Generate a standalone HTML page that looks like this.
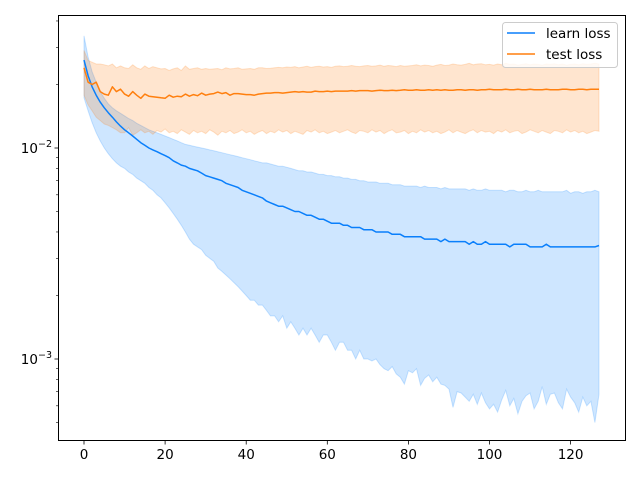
<!DOCTYPE html>
<html><head><meta charset="utf-8"><style>
body{margin:0;background:#fff}
svg{display:block;font-family:"DejaVu Sans","Liberation Sans",sans-serif}
</style></head><body>
<svg id="c" width="640" height="480"></svg>
<script>
const U=1e-4;
const learnMean=[261,220,195,178,165,155,147,140,133,127,122,118,114,110,106,103,100,98,96,94,92,90,87,85,83,82,80,79,78,76,74,73,72,71,70,68,67,66,65,63,62,61,60,59,58,56,55,54,53,53,52,51,50,50,49,48,48,47,46,46,45,44,44,44,43,43,42,42,42,41,41,41,40,40,40,40,39,39,39,38,38,38,38,38,37,37,37,37,36,37,36,36,36,36,36,35,36,35,35,36,35,35,35,35,35,34,35,35,35,35,34,34,34,34,35,34,34,34,34,34,34,34,34,34,34,34,34,34.5];
const learnUpper=[340,270,230,205,185,172,162,155,150,146,142,138,135,131,128,125,122,120,118,116,114,112,110,108,106,104,103,102,101,100,99,98,97,96,95,94,93,92,91,90,89,88,87,86,85,85,84,83,82,82,81,80,79,78,78,77,77,76,75,75,74,74,73,73,72,72,71,71,70,70,69,69,69,68,68,68,67,67,67,66,66,66,66,65,66,65,65,65,64,65,64,64,64,64,64,63,64,63,63,64,63,63,63,63,62,63,63,62,62,63,62,62,63,62,62,62,62,62,62,63,61,62,62,61,62,62,63,62];
const learnLower=[173,150,132,118,108,100,94,89,85,82,80,77,75,72,70,68,65,63,60,58,55,52,49,46,43,40,37,35,34,33,31,30,29,27,26,25,24,23,22,21,20,19,19,18,18,17,16,16,15,16,14,15,14,13,14,13,14,13,12,13,13,12,11,12,12,11,11,10,11,10,10,9.8,10,9.4,9,8.8,9.2,8.5,8.2,7.6,8.8,8.6,9.0,7.5,8.1,8.4,7.8,8.2,7.6,7.5,7.2,5.9,7,6.9,6.6,6.3,6.8,6.1,6.9,6.2,5.8,6.1,5.6,6.4,7.1,6.0,6.5,5.5,6.3,6.7,6.9,5.8,6.3,7.4,6.1,6.8,6.9,6.2,5.8,7.2,6.6,6.2,5.6,6.6,6.0,6.3,5.0,6.8];
const testMean=[240,205,200,205,185,180,178,195,185,190,180,176,185,178,172,180,176,175,174,173,172,178,174,176,175,180,176,179,177,182,178,180,181,184,181,183,178,181,181,180,179,179,178,180,181,182,182,183,183,182,183,184,185,184,185,184,184,186,185,185,186,185,186,186,186,186,187,186,187,187,187,186,187,188,187,187,188,187,188,189,188,188,189,188,188,189,188,189,188,189,188,188,189,189,188,189,189,188,189,189,190,189,189,189,190,189,189,190,189,189,190,189,189,189,190,189,189,189,190,190,189,189,190,190,189,190,190,190];
const testUpper=[290,260,255,250,250,248,245,250,240,245,240,238,248,240,236,245,238,243,240,237,238,233,237,240,233,245,236,238,240,236,238,236,237,238,235,240,237,238,240,236,237,238,236,240,240,238,239,240,241,240,242,241,243,240,242,244,241,243,244,242,243,241,244,245,243,244,246,244,243,245,246,244,245,247,244,246,245,243,246,244,245,246,248,245,247,246,244,247,249,246,247,250,248,247,249,252,248,250,251,248,249,247,250,248,252,249,250,247,249,251,248,250,249,247,250,249,251,248,250,247,249,250,248,251,249,250,252,250];
const testLower=[178,160,150,140,135,130,128,125,122,118,118,125,115,118,122,118,120,116,121,119,123,118,120,117,122,119,116,121,118,120,117,122,119,115,120,118,121,117,119,122,118,120,116,119,121,117,120,118,122,119,121,117,120,118,116,121,119,122,118,120,117,119,121,118,120,122,119,117,121,120,118,122,119,121,117,120,122,118,119,121,117,120,118,122,119,121,118,120,117,119,122,118,121,119,117,120,122,118,121,119,120,117,121,119,122,118,120,121,117,119,122,120,118,121,119,117,121,120,118,122,119,121,118,120,117,119,121,120];
const xTicks=[0,20,40,60,80,100,120];
const yMajor=[-2,-3];

const NS='http://www.w3.org/2000/svg';
const svg=document.getElementById('c');
const L=58,R=626,T=15,B=441;
const xs=v=>84+v*(515/127);
const ys=v=>148-211*Math.log10(v/0.01);
function mk(t,a,p){const e=document.createElementNS(NS,t);for(const k in a)e.setAttribute(k,a[k]);(p||svg).appendChild(e);return e;}
const cp=mk('clipPath',{id:'clip'});mk('rect',{x:L,y:T,width:R-L,height:B-T},cp);
const plot=mk('g',{'clip-path':'url(#clip)'});


function band(up,lo,col,name){
  let d='';up.forEach((v,i)=>{d+=(i?'L':'M')+xs(i).toFixed(1)+','+ys(v*U).toFixed(1);});
  for(let i=lo.length-1;i>=0;i--)d+='L'+xs(i).toFixed(1)+','+ys(lo[i]*U).toFixed(1);
  const p=mk('path',{d:d+'Z',fill:col,'fill-opacity':0.2,stroke:col,'stroke-opacity':0.2,'stroke-width':1},plot);
  
  
}
function line(arr,col,name){
  let d='';arr.forEach((v,i)=>{d+=(i?'L':'M')+xs(i).toFixed(1)+','+ys(v*U).toFixed(1);});
  const p=mk('path',{d:d,fill:'none',stroke:col,'stroke-width':1.5,'stroke-linejoin':'round'},plot);
  
  
}
const CB='#0a7ffb',CO='#ff7f0e';
band(learnUpper,learnLower,'#0a84ff','learn-loss-band');
band(testUpper,testLower,CO,'test-loss-band');
line(learnMean,CB,'learn-loss-line');
line(testMean,CO,'test-loss-line');
const fr=mk('rect',{x:L+0.5,y:T+0.5,width:R-L-1,height:B-T-1,fill:'none',stroke:'#000','stroke-width':1});


xTicks.forEach(v=>{
  const x=xs(v);
  mk('line',{x1:x,x2:x,y1:B,y2:B+3.5,stroke:'#000','stroke-width':0.8});
  const t=mk('text',{x:x,y:B+18,'font-size':13.5,'text-anchor':'middle',fill:'#000'});
  t.textContent=v;
  
  
});
yMajor.forEach(e=>{
  const y=ys(Math.pow(10,e));
  mk('line',{x1:L-3.5,x2:L,y1:y,y2:y,stroke:'#000','stroke-width':0.8});
  const t=mk('text',{x:L-6,y:y+5,'font-size':13.5,'text-anchor':'end',fill:'#000'});
  t.innerHTML='10<tspan dy="-6" font-size="9.5">−'+(-e)+'</tspan>';
  
  
});
[-4,-3,-2].forEach(e=>{for(let m=2;m<10;m++){const y=ys(m*Math.pow(10,e));if(y>=T&&y<=B)mk('line',{x1:L-2,x2:L,y1:y,y2:y,stroke:'#000','stroke-width':0.6});}});
const lg=mk('g',{});


mk('rect',{x:502.5,y:22.5,width:115,height:45,rx:3,fill:'#fff','fill-opacity':0.8,stroke:'#ccc'},lg);
[['learn loss',CB,38],['test loss',CO,59]].forEach(([n,c,y])=>{
  const g=mk('g',{},lg);
  
  
  mk('line',{x1:507,x2:535,y1:y-5,y2:y-5,stroke:c,'stroke-width':1.5},g);
  const t=mk('text',{x:546,y:y,'font-size':13.5,fill:'#000'},g);t.textContent=n;
});
</script>
</body></html>
